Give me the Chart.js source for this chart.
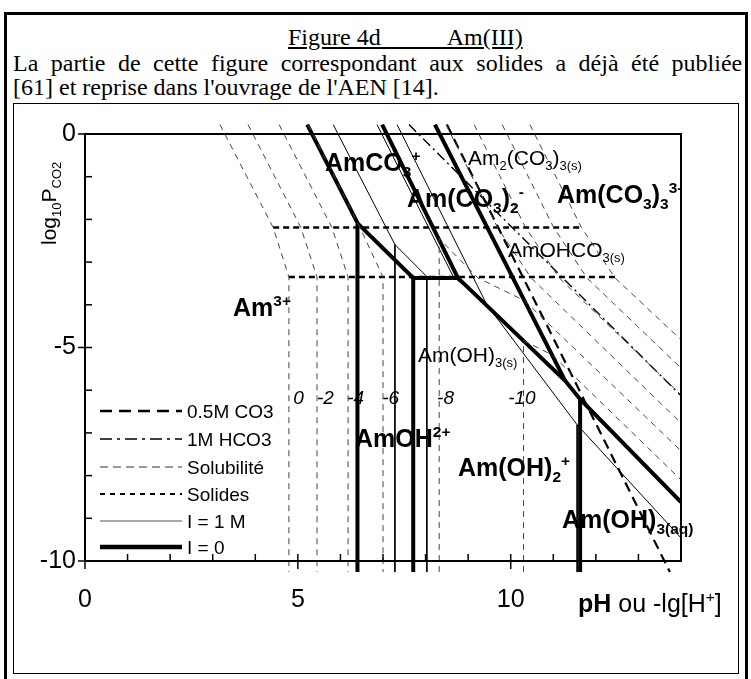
<!DOCTYPE html>
<html><head><meta charset="utf-8">
<script src="https://cdn.jsdelivr.net/npm/chart.js@4.4.1/dist/chart.umd.min.js"></script>
<style>
html,body{margin:0;padding:0;background:#fff;}
#page{position:relative;width:751px;height:679px;overflow:hidden;font-family:"Liberation Serif",serif;}
#outer{position:absolute;left:4px;top:12px;width:744px;height:680px;border:3px solid #000;box-sizing:border-box;}
#inner{position:absolute;left:13px;top:103px;width:726px;height:571px;border:1px solid #000;box-sizing:border-box;}
.t{position:absolute;white-space:nowrap;font-size:24px;color:#000;line-height:1;}
#c{position:absolute;left:0;top:0;}
</style></head>
<body><div id="page">
<div id="outer"></div>
<div id="inner"></div>
<div class="t" style="left:288px;top:25px;text-decoration:underline;">Figure 4d&nbsp;&nbsp;&nbsp;&nbsp;&nbsp;&nbsp;&nbsp;&nbsp;&nbsp;&nbsp;&nbsp;Am(III)</div>
<div class="t" style="left:13px;top:51px;word-spacing:6.5px;">La partie de cette figure correspondant aux solides a déjà été publiée</div>
<div class="t" style="left:13px;top:75px;">[61] et reprise dans l'ouvrage de l'AEN [14].</div>
<canvas id="c" width="751" height="679"></canvas>
</div>
<script>
// ---- data (pH, log10 PCO2) ----
const xTicks = [0, 5, 10];
const yTicks = [0, -5, -10];
// I = 0 boundaries (thick)
const i0Upper = [[5.22,0.22],[6.41,-2.10],[7.71,-3.37],[8.76,-3.37],[11.28,-5.78],[11.63,-6.21],[14.0,-8.62]];
const i0Am3_AmOH = [[6.40,-2.10],[6.40,-10.26]];
const i0AmOH_AmOH2 = [[7.71,-3.37],[7.71,-10.26]];
const i0CO3_CO32 = [[6.98,0.22],[8.76,-3.37]];
const i0CO32_CO33 = [[8.22,0.22],[11.28,-5.78]];
const i0OH2_OH3 = [[11.63,-6.21],[11.63,-10.26]];
// I = 1 M boundaries (thin)
const i1Upper = [[5.83,0.22],[7.28,-2.59],[8.03,-3.34],[8.65,-3.34]];
const i1Am3_AmOH = [[7.28,-2.59],[7.28,-10.26]];
const i1AmOH_AmOH2 = [[8.03,-3.34],[8.03,-10.26]];
const i1CO3_CO32 = [[6.86,0.22],[8.65,-3.34],[9.44,-4.00]];
const i1CO32_CO33 = [[7.33,0.22],[9.44,-4.00]];
const i1OH2_CO33 = [[9.44,-4.00],[11.56,-6.81],[14.0,-9.46]];
const i1OH2_OH3 = [[11.56,-6.81],[11.56,-10.26]];
// solides (dotted)
const solidUpper = [[4.42,-2.19],[11.67,-2.19]];
const solidLower = [[4.79,-3.35],[12.50,-3.35]];
// solubility contours, log[Am] = 0, -2, -4, -6, -8, -10
const sol0L = [[3.17,0.22],[4.42,-2.19],[4.79,-3.35],[4.79,-10.26]];
const solM2L = [[3.83,0.22],[5.07,-2.19],[5.45,-3.35],[5.45,-10.26]];
const solM4L = [[4.56,0.22],[5.80,-2.19],[6.18,-3.35],[6.18,-10.26]];
const solM6L = [[5.24,0.22],[6.46,-2.19],[7.0,-3.35],[7.0,-10.26]];
const solM8 = [[8.32,-10.26],[8.32,-2.45],[9.23,-3.37],[10.32,-3.90],[14.0,-7.42]];
const solM10 = [[10.30,-10.26],[10.30,-4.84],[10.97,-5.17],[14.0,-8.10]];
const sol0R = [[10.45,0.22],[11.66,-2.19],[12.45,-3.37],[14.0,-4.82]];
const solM2R = [[9.80,0.22],[11.01,-2.19],[11.79,-3.37],[14.0,-5.48]];
const solM4R = [[9.14,0.22],[10.35,-2.19],[11.14,-3.37],[14.0,-6.11]];
const solM6R = [[8.48,0.22],[9.69,-2.19],[10.48,-3.37],[14.0,-6.77]];
// 0.5 M CO3 and 1 M HCO3
const co3Line = [[8.50,0.22],[13.74,-10.26]];
const hco3Line = [[7.61,0.22],[14.0,-6.13]];
// contour labels (text, pH position)
const solLabels = [["0",4.89],["-2",5.45],["-4",6.16],["-6",6.98],["-8",8.27],["-10",9.94]];

const P = a => a.map(p => ({x:p[0], y:p[1]}));
const CLIP = {left:0, top:10, right:0, bottom:12};
function ds(arr, w, color, dash){
  return {data:P(arr), showLine:true, borderColor:color, borderWidth:w, borderDash:dash||[], pointRadius:0, fill:false, clip:CLIP, tension:0, borderCapStyle:'butt', borderJoinStyle:'miter'};
}
const G = '#444';
const datasets = [];
[sol0L,solM2L,solM4L,solM6L,solM8,solM10,sol0R,solM2R,solM4R,solM6R].forEach(a=>datasets.push(ds(a,1,G,[6,5])));
datasets.push(ds(solidUpper,2.5,'#000',[6,4]));
datasets.push(ds(solidLower,2.5,'#000',[6,4]));
datasets.push(ds(co3Line,2.2,'#000',[10,6]));
datasets.push(ds(hco3Line,1.4,'#000',[10,4,2,4]));
[i1Upper,i1Am3_AmOH,i1AmOH_AmOH2,i1CO3_CO32,i1CO32_CO33,i1OH2_CO33,i1OH2_OH3].forEach(a=>datasets.push(ds(a,1,'#000')));
[i0Upper,i0Am3_AmOH,i0AmOH_AmOH2,i0CO3_CO32,i0CO32_CO33,i0OH2_OH3].forEach(a=>datasets.push(ds(a,4,'#000')));

function txt(ctx, parts, x, y, size, weight, style){
  let cx = x;
  parts.forEach(([t,m])=>{
    const s = m==='n'? size : size*0.62;
    ctx.font = (style||'') + ' ' + (weight||'') + ' ' + s + 'px "Liberation Sans", Arial, sans-serif';
    const dy = m==='b'? size*0.22 : (m==='p'? -size*0.42 : 0);
    ctx.fillText(t, cx, y+dy);
    cx += ctx.measureText(t).width;
  });
}

const deco = {
  id:'deco',
  afterDatasetsDraw(chart){
    const ctx = chart.ctx, a = chart.chartArea, xs = chart.scales.x, ys = chart.scales.y;
    ctx.save();
    ctx.strokeStyle = '#000'; ctx.lineWidth = 2;
    ctx.strokeRect(a.left, a.top, a.right-a.left, a.bottom-a.top);
    ctx.lineWidth = 1.5;
    for(let v=0; v<=14; v++){
      const px = xs.getPixelForValue(v);
      ctx.beginPath();
      const major = v%5===0;
      ctx.moveTo(px, a.bottom + (major?8:0)); ctx.lineTo(px, a.bottom-7); ctx.stroke();
    }
    for(let v=0; v>=-10; v--){
      const py = ys.getPixelForValue(v);
      const major = v%5===0;
      ctx.beginPath(); ctx.moveTo(a.left-(major?7:0), py); ctx.lineTo(a.left+7, py); ctx.stroke();
    }
    ctx.fillStyle = '#000'; ctx.textBaseline = 'alphabetic';
    const X = v=>xs.getPixelForValue(v);
    txt(ctx, [['AmCO','n'],['3','b'],['+','p']], 325, 171, 25, 'bold');
    txt(ctx, [['Am(CO','n'],['3','b'],[')','n'],['2','b'],['-','p']], 407, 207, 25, 'bold');
    txt(ctx, [['Am(CO','n'],['3','b'],[')','n'],['3','b'],['3-','p']], 557, 203, 25, 'bold');
    txt(ctx, [['Am','n'],['3+','p']], 233, 316, 25, 'bold');
    txt(ctx, [['AmOH','n'],['2+','p']], 355, 447, 25, 'bold');
    txt(ctx, [['Am(OH)','n'],['2','b'],['+','p']], 458, 476, 25, 'bold');
    txt(ctx, [['Am(OH)','n'],['3(aq)','b']], 562, 528, 25, 'bold');
    txt(ctx, [['Am','n'],['2','b'],['(CO','n'],['3','b'],[')','n'],['3(s)','b']], 468, 165, 21, '');
    txt(ctx, [['AmOHCO','n'],['3(s)','b']], 508, 257, 21, '');
    txt(ctx, [['Am(OH)','n'],['3(s)','b']], 418, 362, 21, '');
    solLabels.forEach(([t,v])=>{ txt(ctx, [[t,'n']], X(v), 404, 19, '', 'italic'); });
    txt(ctx, [['pH','n']], 578, 612, 25, 'bold');
    ctx.font = 'bold 25px "Liberation Sans", Arial, sans-serif';
    const wpH = ctx.measureText('pH').width;
    txt(ctx, [[' ou -lg[H','n'],['+','p'],[']','n']], 578+wpH, 612, 25, '');
    ctx.save(); ctx.translate(56, 245); ctx.rotate(-Math.PI/2);
    txt(ctx, [['log','n'],['10','b'],['P','n'],['CO2','b']], 0, 0, 21, '');
    ctx.restore();
    const L = [[411,2.5,[12,7]],[439,1.5,[12,5,3,5]],[467,1.3,[8,5],'#777'],[494,2,[5,5]],[521,1,[], '#555'],[547,4.5,[]]];
    const LT = ['0.5M CO3','1M HCO3','Solubilité','Solides','I = 1 M','I = 0'];
    L.forEach((l,i)=>{
      ctx.beginPath(); ctx.setLineDash(l[2]); ctx.lineWidth=l[1]; ctx.strokeStyle=l[3]||'#000';
      ctx.moveTo(100,l[0]); ctx.lineTo(182,l[0]); ctx.stroke();
      ctx.setLineDash([]);
      txt(ctx, [[LT[i],'n']], 187, l[0]+7, 19, '');
    });
    ctx.restore();
  }
};

new Chart(document.getElementById('c'), {
  type:'scatter',
  data:{datasets},
  options:{
    responsive:false, animation:false, devicePixelRatio:1,
    layout:{padding:{left:0, top:134, right:70, bottom:58}},
    plugins:{legend:{display:false}, tooltip:{enabled:false}},
    scales:{
      x:{type:'linear', min:0, max:14, afterFit:s=>{s.height=60;},
         grid:{display:true, drawOnChartArea:false, drawTicks:false}, border:{display:false},
         ticks:{stepSize:5, padding:24, color:'#000', font:{family:'"Liberation Sans", Arial', size:25},
                callback:v=> xTicks.includes(v)? String(v):''}},
      y:{type:'linear', min:-10, max:0, afterFit:s=>{s.width=85;},
         grid:{display:true, drawOnChartArea:false, drawTicks:false}, border:{display:false},
         ticks:{stepSize:5, padding:9, color:'#000', font:{family:'"Liberation Sans", Arial', size:25},
                callback:v=> yTicks.includes(v)? String(v):''}}
    }
  },
  plugins:[deco]
});
</script>
</body></html>
